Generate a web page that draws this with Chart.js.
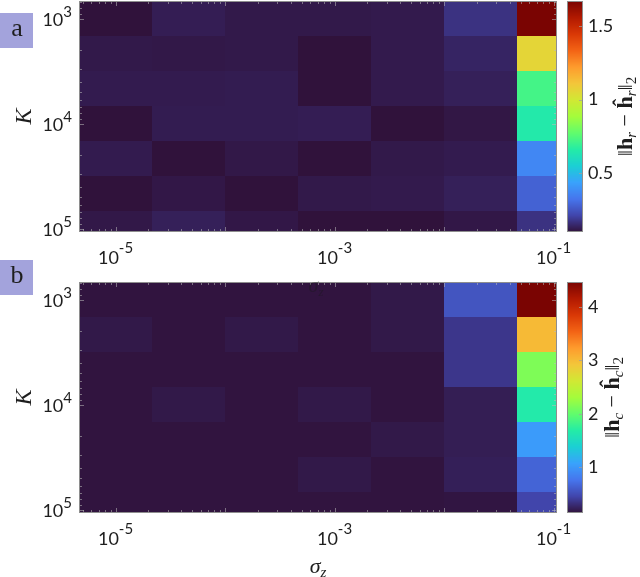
<!DOCTYPE html>
<html>
<head>
<meta charset="utf-8">
<script src="https://cdn.jsdelivr.net/npm/chart.js@4/dist/chart.umd.min.js"></script>
<style>
  body { margin: 0; background: #fff; }
  #wrap { position: relative; width: 640px; height: 577px; }
  #wrap canvas { position: absolute; left: 0; }
</style>
</head>
<body>
<div id="wrap">
  <canvas id="panelA" width="640" height="270" style="top:0"></canvas>
  <canvas id="panelB" width="640" height="321" style="top:256px"></canvas>
</div>
<script>
// grid of the sweep: noise level sigma_z (columns) and K (rows)
const sigmaZ = [1e-5, 4.64e-5, 2.15e-4, 1e-3, 4.64e-3, 2.15e-2, 1e-1];
const Kvals = [1e3, 2.15e3, 4.64e3, 1e4, 2.15e4, 4.64e4, 1e5];
const xTicks = [1e-5, 1e-3, 1e-1];
const yTicks = [1e3, 1e4, 1e5];

// ||h_r - ĥ_r||_2, one row per K value
const errR = [
  [0.100, 0.125, 0.115, 0.115, 0.118, 0.17, 1.67],
  [0.115, 0.113, 0.115, 0.100, 0.118, 0.14, 1.06],
  [0.120, 0.120, 0.122, 0.100, 0.118, 0.13, 0.72],
  [0.100, 0.122, 0.122, 0.125, 0.100, 0.11, 0.65],
  [0.120, 0.100, 0.113, 0.100, 0.115, 0.12, 0.37],
  [0.100, 0.112, 0.100, 0.115, 0.118, 0.13, 0.28],
  [0.113, 0.130, 0.112, 0.100, 0.100, 0.112, 0.17]
];
// ||h_c - ĥ_c||_2
const errC = [
  [0.15, 0.15, 0.15, 0.15, 0.18, 0.55, 4.47],
  [0.18, 0.15, 0.18, 0.15, 0.18, 0.36, 3.01],
  [0.15, 0.15, 0.15, 0.15, 0.15, 0.36, 2.13],
  [0.15, 0.18, 0.15, 0.18, 0.15, 0.21, 1.66],
  [0.15, 0.15, 0.15, 0.15, 0.18, 0.21, 1.02],
  [0.15, 0.15, 0.15, 0.18, 0.15, 0.22, 0.65],
  [0.15, 0.15, 0.15, 0.15, 0.15, 0.16, 0.45]
];
const cbRangeR = [0.1, 1.67];
const cbTicksR = [0.5, 1, 1.5];
const cbRangeC = [0.14, 4.47];
const cbTicksC = [1, 2, 3, 4];

// axis limits: first cell fully shown, last one clipped like the original
const xMin = 4.64e-6, xMax = 0.1076;
const yMin = 681, yMax = 1.079e5;

const turboKeys = [[48,18,59],[65,69,171],[70,117,237],[57,162,252],[27,207,212],[36,236,166],
  [97,252,108],[164,252,59],[209,232,52],[243,198,58],[254,155,45],[243,99,21],[217,56,6],[177,25,1],[122,4,2]];

function turbo(t) {
  t = Math.min(1, Math.max(0, t)) * (turboKeys.length - 1);
  const i = Math.min(Math.floor(t), turboKeys.length - 2), f = t - i;
  const c = turboKeys[i].map((v, k) => Math.round(v + (turboKeys[i + 1][k] - v) * f));
  return `rgb(${c.join(',')})`;
}

// edges of a cell on a log-spaced grid
function cellEdges(arr, i) {
  const lo = i > 0 ? Math.sqrt(arr[i - 1] * arr[i]) : arr[i] * Math.sqrt(arr[i] / arr[i + 1]);
  const hi = i < arr.length - 1 ? Math.sqrt(arr[i] * arr[i + 1]) : arr[i] * Math.sqrt(arr[i] / arr[i - 1]);
  return [lo, hi];
}

function drawRuns(ctx, runs, x, y, align) {
  let total = 0;
  const widths = runs.map(r => { ctx.font = r[1]; const w = ctx.measureText(r[0]).width; total += w; return w; });
  let cx = align === 'right' ? x - total : align === 'center' ? x - total / 2 : x;
  runs.forEach((r, k) => { ctx.font = r[1]; ctx.fillText(r[0], cx, y + (r[2] || 0)); cx += widths[k]; });
}

const SERIF = '"Liberation Serif", "DejaVu Serif", serif';
const SANS = 'Lato, "Open Sans", sans-serif';

function normLabel(sub) {
  const F = `22px ${SERIF}`, FB = `bold 22px ${SERIF}`, FS = `italic 15px ${SERIF}`, F2 = `15px ${SERIF}`;
  return [['‖', F], ['h', FB], [sub, FS, 4], [' − ', F], ['ĥ', FB], [sub, FS, 4], ['‖', F], ['2', F2, 4]];
}

// fixed axis sizes, and no extra room for the first/last labels
function fixSize(prop, size) {
  return s => {
    s[prop] = size;
    s.paddingTop = s.paddingBottom = s.paddingLeft = s.paddingRight = 0;
  };
}

function makePanel(id, p) {
  const points = [];
  p.values.forEach((row, r) => row.forEach((v, c) => points.push({ x: sigmaZ[c], y: Kvals[r], v })));

  const heatmap = {
    id: 'heatmap',
    beforeDatasetsDraw(chart) {
      const { ctx, chartArea: a, scales: { x, y, cb } } = chart;
      const [lo, hi] = p.range;
      ctx.save();
      ctx.beginPath();
      ctx.rect(a.left, a.top, a.right - a.left, a.bottom - a.top);
      ctx.clip();
      chart.data.datasets[0].data.forEach(d => {
        const xs = cellEdges(sigmaZ, sigmaZ.indexOf(d.x)).map(v => Math.round(x.getPixelForValue(v)));
        const ys = cellEdges(Kvals, Kvals.indexOf(d.y)).map(v => Math.round(y.getPixelForValue(v)));
        ctx.fillStyle = turbo((d.v - lo) / (hi - lo));
        ctx.fillRect(Math.min(...xs), Math.min(...ys), Math.abs(xs[1] - xs[0]), Math.abs(ys[1] - ys[0]));
      });
      // minor / major tick marks pointing inward
      ctx.strokeStyle = 'rgba(185,185,185,0.55)';
      ctx.lineWidth = 1;
      ctx.beginPath();
      for (let e = -6; e <= 0; e++) for (let m = 1; m <= 9; m++) {
        const v = m * Math.pow(10, e);
        if (v < xMin || v > xMax) continue;
        const px = Math.round(x.getPixelForValue(v)) + 0.5;
        const len = m === 1 ? 5 : 3;
        ctx.moveTo(px, a.top); ctx.lineTo(px, a.top + len);
        ctx.moveTo(px, a.bottom); ctx.lineTo(px, a.bottom - len);
      }
      for (let e = 2; e <= 5; e++) for (let m = 1; m <= 9; m++) {
        const v = m * Math.pow(10, e);
        if (v < yMin || v > yMax) continue;
        const py = Math.round(y.getPixelForValue(v)) + 0.5;
        const len = m === 1 ? 5 : 3;
        ctx.moveTo(a.left, py); ctx.lineTo(a.left + len, py);
        ctx.moveTo(a.right, py); ctx.lineTo(a.right - len, py);
      }
      ctx.stroke();
      ctx.restore();

      // frame
      ctx.save();
      ctx.strokeStyle = '#8e8e8e';
      ctx.lineWidth = 1;
      ctx.strokeRect(a.left + 0.5, a.top + 0.5, a.right - a.left - 1, a.bottom - a.top - 1);

      // colour bar
      const cbx = cb.left + 10, cbw = 16;
      for (let py = Math.floor(cb.top); py < cb.bottom; py++) {
        const v = cb.getValueForPixel(py + 0.5);
        ctx.fillStyle = turbo((v - lo) / (hi - lo));
        ctx.fillRect(cbx, py, cbw, 1);
      }
      ctx.strokeStyle = 'rgba(160,160,160,0.7)';
      ctx.beginPath();
      p.cbTicks.forEach(v => {
        const py = Math.round(cb.getPixelForValue(v)) + 0.5;
        ctx.moveTo(cbx + cbw, py); ctx.lineTo(cbx + cbw - 4, py);
      });
      ctx.stroke();
      ctx.strokeStyle = '#8e8e8e';
      ctx.strokeRect(cbx + 0.5, cb.top + 0.5, cbw - 1, cb.bottom - cb.top - 1);

      // tick labels 10^n
      ctx.fillStyle = '#1e1e1e';
      ctx.textBaseline = 'middle';
      x.ticks.forEach(t => {
        const px = x.getPixelForValue(t.value);
        drawRuns(ctx, [['10', `18px ${SANS}`], [String(Math.round(Math.log10(t.value))), `15px ${SANS}`, -10]],
          px, a.bottom + 26, 'center');
      });
      y.ticks.forEach(t => {
        const py = y.getPixelForValue(t.value);
        drawRuns(ctx, [['10', `18px ${SANS}`], [String(Math.round(Math.log10(t.value))), `15px ${SANS}`, -8]],
          72, py + 1.5, 'right');
      });

      // K label
      ctx.save();
      ctx.translate(25, (a.top + a.bottom) / 2);
      ctx.rotate(-Math.PI / 2);
      ctx.textAlign = 'center';
      ctx.font = `italic 24px ${SERIF}`;
      ctx.fillText('K', 0, 0);
      ctx.restore();

      // colour bar label
      ctx.save();
      ctx.translate(p.cbLabelX, (a.top + a.bottom) / 2);
      ctx.rotate(-Math.PI / 2);
      ctx.textBaseline = 'alphabetic';
      drawRuns(ctx, normLabel(p.sub), 0, 0, 'center');
      ctx.restore();

      // sigma_z axis title (panel b only)
      ctx.textBaseline = 'alphabetic';
      if (p.xTitle) {
        drawRuns(ctx, [['σ', `italic 22px ${SERIF}`], ['z', `italic 15px ${SERIF}`, 4]], 318, a.bottom + 60, 'center');
      }
      if (p.ghost) {
        ctx.fillStyle = 'rgba(20,30,20,0.35)';
        drawRuns(ctx, [['σ', `italic 20px ${SERIF}`], ['z', `italic 13px ${SERIF}`, 4]], 316, a.top + 10, 'center');
      }

      // panel letter
      ctx.fillStyle = '#a3a3dc';
      ctx.fillRect(0, p.boxY, 33, 35);
      ctx.fillStyle = '#1e1e1e';
      ctx.textAlign = 'center';
      ctx.textBaseline = 'middle';
      ctx.font = `26px ${SERIF}`;
      ctx.fillText(p.letter, 17, p.boxY + 16);
      ctx.restore();
    }
  };

  return new Chart(document.getElementById(id), {
    type: 'scatter',
    data: { datasets: [{ data: points, pointRadius: 0, pointHoverRadius: 0 }] },
    options: {
      responsive: false,
      animation: false,
      devicePixelRatio: 1,
      events: [],
      layout: { padding: { top: p.padTop, left: 0, right: 0, bottom: 0 } },
      plugins: { legend: { display: false }, tooltip: { enabled: false } },
      scales: {
        x: {
          type: 'logarithmic', min: xMin, max: xMax,
          grid: { display: false }, border: { display: false }, ticks: { display: false },
          afterBuildTicks: s => { s.ticks = xTicks.map(value => ({ value })); },
          afterFit: fixSize('height', p.xAxisH)
        },
        y: {
          type: 'logarithmic', reverse: true, min: yMin, max: yMax,
          grid: { display: false }, border: { display: false }, ticks: { display: false },
          afterBuildTicks: s => { s.ticks = yTicks.map(value => ({ value })); },
          afterFit: fixSize('width', 79)
        },
        cb: {
          type: 'linear', position: 'right', min: p.range[0], max: p.range[1],
          grid: { display: false, drawTicks: false }, border: { display: false },
          ticks: { padding: 31, color: '#1e1e1e', font: { family: SANS, size: 18 }, callback: v => String(v) },
          afterBuildTicks: s => { s.ticks = p.cbTicks.map(value => ({ value })); },
          afterFit: fixSize('width', 83)
        }
      }
    },
    plugins: [heatmap]
  });
}

makePanel('panelA', {
  values: errR, range: cbRangeR, cbTicks: cbTicksR, sub: 'r', letter: 'a',
  padTop: 1, xAxisH: 38, boxY: 13, cbLabelX: 632, xTitle: false, ghost: false
});
makePanel('panelB', {
  values: errC, range: cbRangeC, cbTicks: cbTicksC, sub: 'c', letter: 'b',
  padTop: 26, xAxisH: 64, boxY: 4, cbLabelX: 619, xTitle: true, ghost: true
});
</script>
</body>
</html>
